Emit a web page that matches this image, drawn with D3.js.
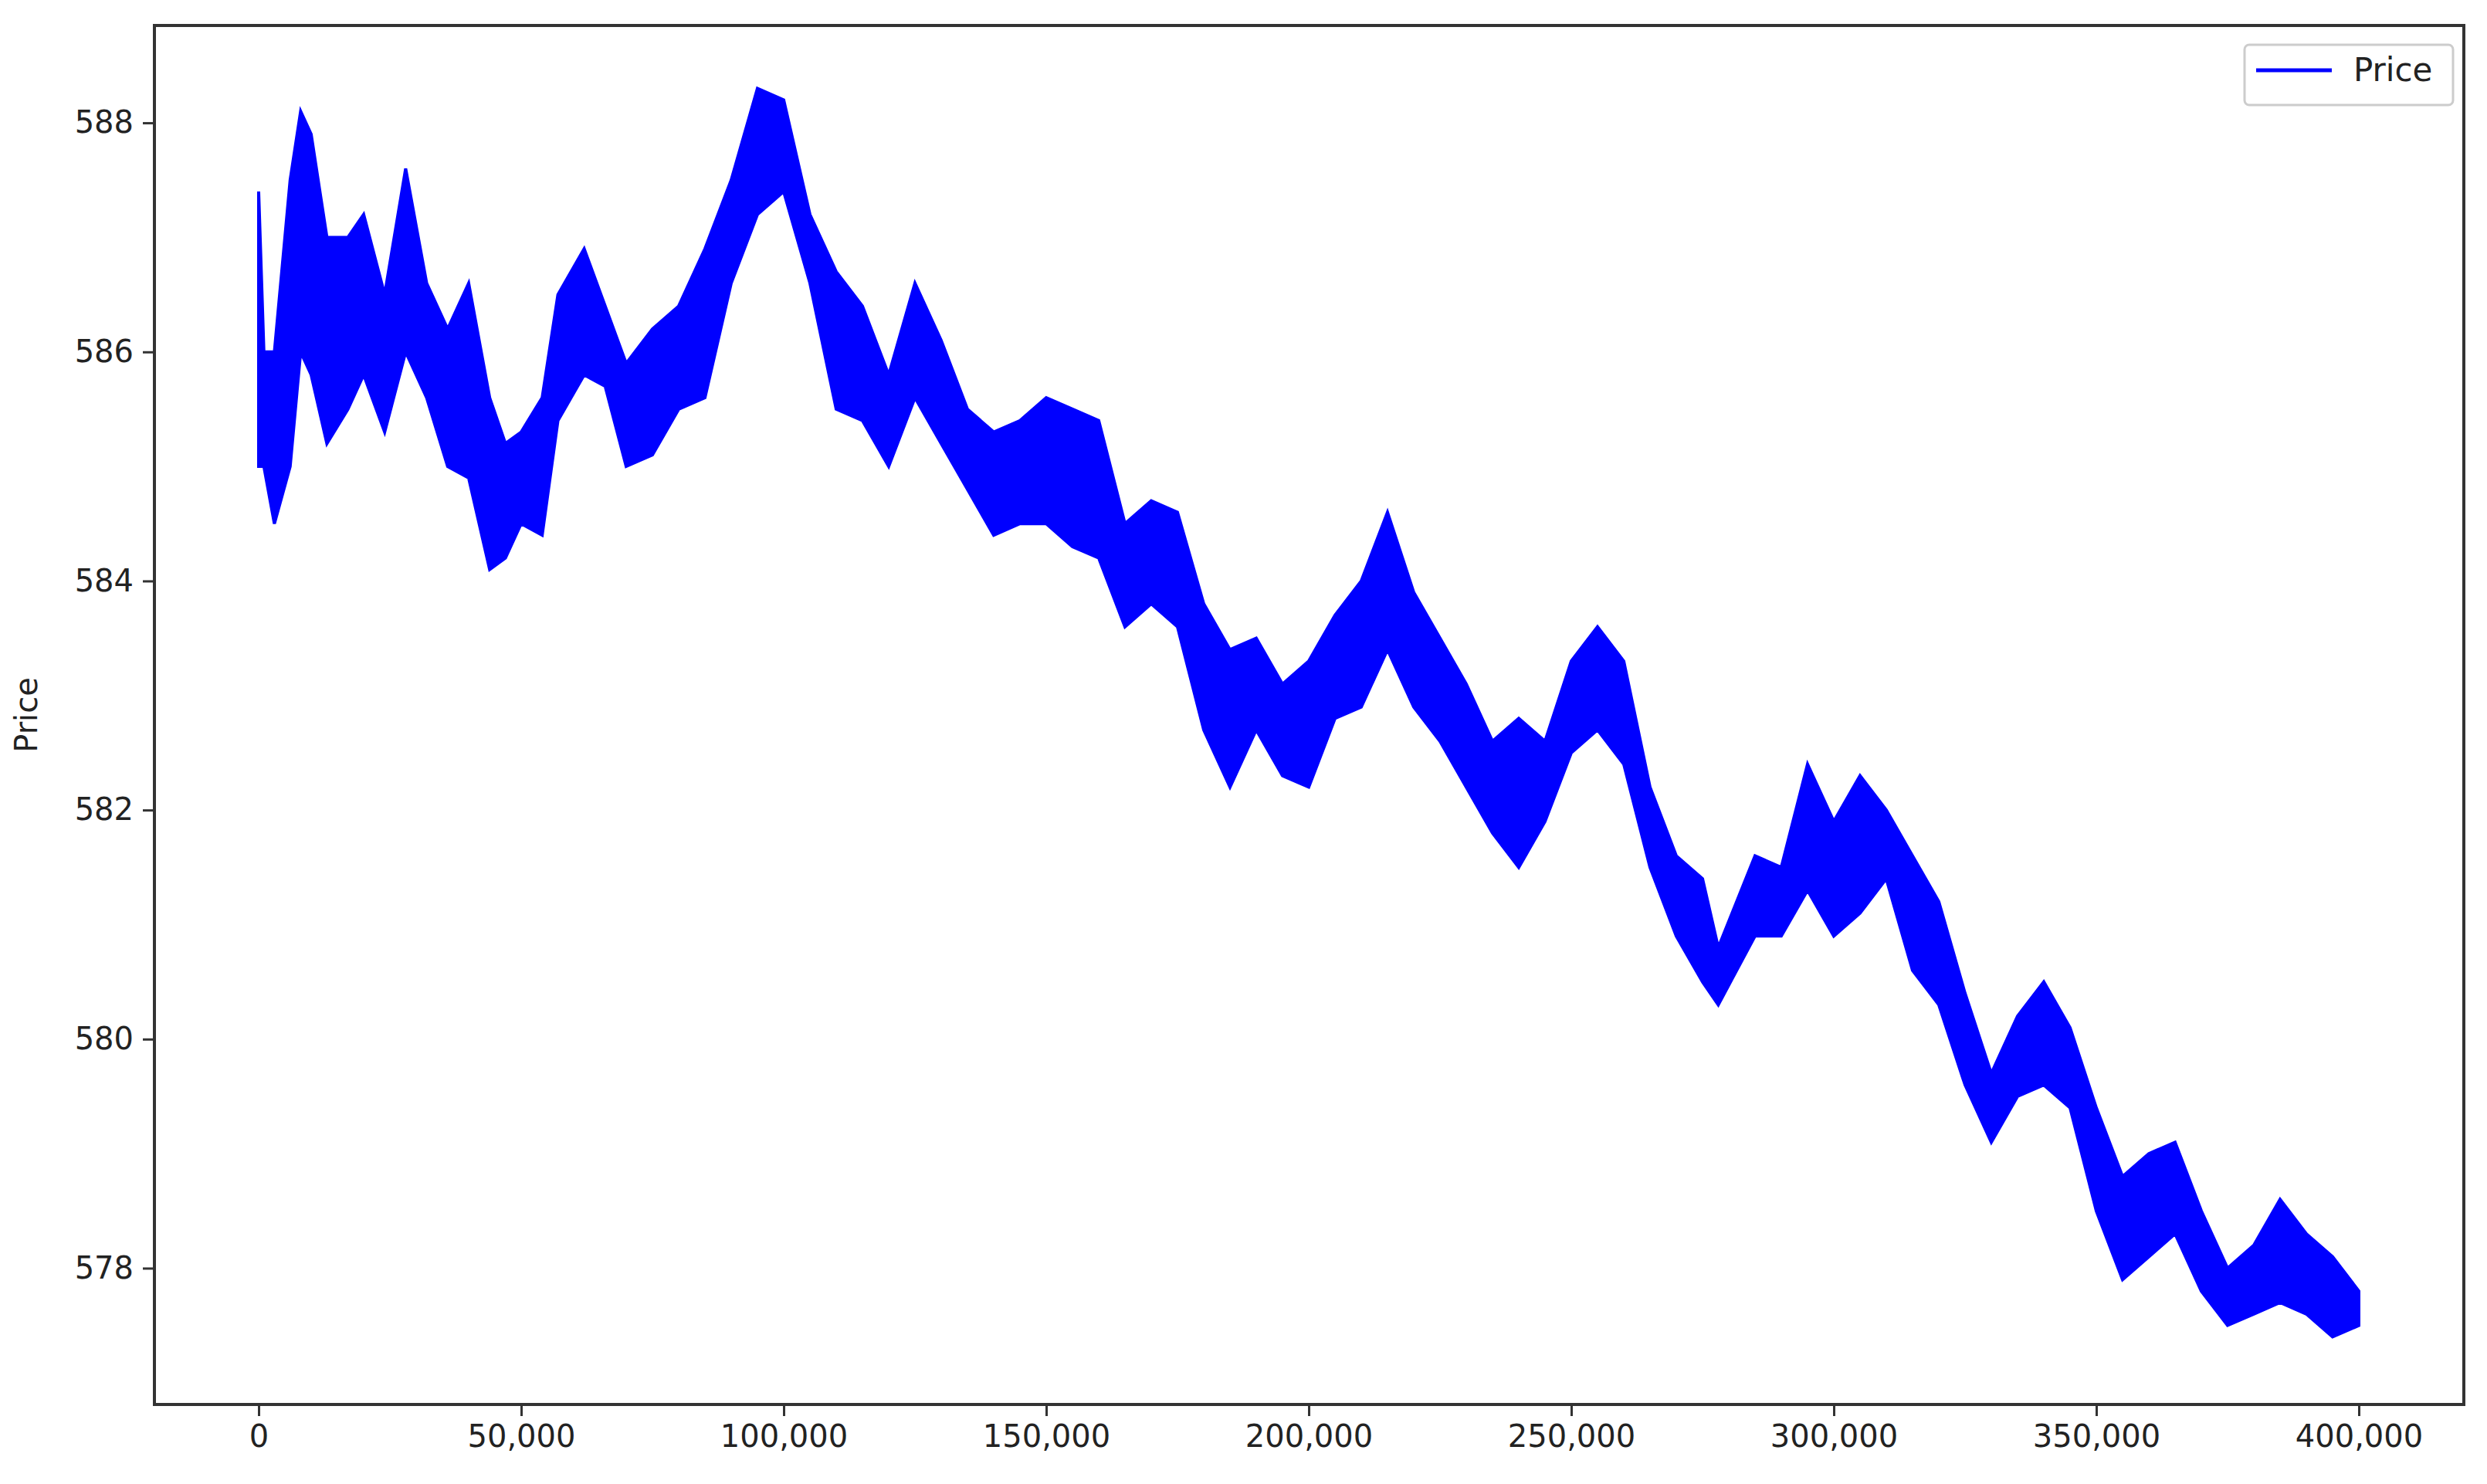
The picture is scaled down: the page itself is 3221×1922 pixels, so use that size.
<!DOCTYPE html>
<html><head><meta charset="utf-8">
<script src="https://cdn.jsdelivr.net/npm/d3@7"></script>
<style>body{margin:0;background:#fff}svg{display:block}</style>
</head><body>
<svg id="chart" width="3221" height="1922"></svg>
<script>
// price envelope (x index, high, low)
var xs =  [0,1000,3000,6000,8000,10000,13000,17000,20000,24000,28000,32000,36000,40000,44000,47000,50000,54000,57000,62000,66000,70000,75000,80000,85000,90000,95000,100000,105000,110000,115000,120000,125000,130000,135000,140000,145000,150000,155000,160000,165000,170000,175000,180000,185000,190000,195000,200000,205000,210000,215000,220000,225000,230000,235000,240000,245000,250000,255000,260000,265000,270000,275000,278000,285000,290000,295000,300000,305000,310000,315000,320000,325000,330000,335000,340000,345000,350000,355000,360000,365000,370000,375000,380000,385000,390000,395000,400000];
var highs = [587.4,586.0,586.0,587.5,588.1,587.9,587.0,587.0,587.2,586.5,587.6,586.6,586.2,586.6,585.6,585.2,585.3,585.6,586.5,586.9,586.4,585.9,586.2,586.4,586.9,587.5,588.3,588.2,587.2,586.7,586.4,585.8,586.6,586.1,585.5,585.3,585.4,585.6,585.5,585.4,584.5,584.7,584.6,583.8,583.4,583.5,583.1,583.3,583.7,584.0,584.6,583.9,583.5,583.1,582.6,582.8,582.6,583.3,583.6,583.3,582.2,581.6,581.4,580.8,581.6,581.5,582.4,581.9,582.3,582.0,581.6,581.2,580.4,579.7,580.2,580.5,580.1,579.4,578.8,579.0,579.1,578.5,578.0,578.2,578.6,578.3,578.1,577.8];
var lows  = [585.0,585.0,584.5,585.0,586.0,585.8,585.2,585.5,585.8,585.3,586.0,585.6,585.0,584.9,584.1,584.2,584.5,584.4,585.4,585.8,585.7,585.0,585.1,585.5,585.6,586.6,587.2,587.4,586.6,585.5,585.4,585.0,585.6,585.2,584.8,584.4,584.5,584.5,584.3,584.2,583.6,583.8,583.6,582.7,582.2,582.7,582.3,582.2,582.8,582.9,583.4,582.9,582.6,582.2,581.8,581.5,581.9,582.5,582.7,582.4,581.5,580.9,580.5,580.3,580.9,580.9,581.3,580.9,581.1,581.4,580.6,580.3,579.6,579.1,579.5,579.6,579.4,578.5,577.9,578.1,578.3,577.8,577.5,577.6,577.7,577.6,577.4,577.5];
var yTicks = [578,580,582,584,586,588];
var xTicks = [0,50000,100000,150000,200000,250000,300000,350000,400000];

var svg = d3.select('#chart');
var L = 200, R = 3191, T = 33, B = 1819;
var x = d3.scaleLinear().domain([-19850, 420000]).range([L, R]);
var y = d3.scaleLinear().domain([576.81, 588.85]).range([B, T]);
var font = 'DejaVu Sans, sans-serif';
var data = xs.map(function (v, i) { return { x: v, hi: highs[i], lo: lows[i] }; });

var area = d3.area().x(d => x(d.x)).y0(d => y(d.lo)).y1(d => y(d.hi));
svg.append('path').datum(data).attr('d', area).attr('fill', '#0000ff')
	.attr('stroke', '#0000ff').attr('stroke-width', 4).attr('stroke-linejoin', 'miter');

var gx = svg.append('g').attr('transform', 'translate(0,' + B + ')')
	.call(d3.axisBottom(x).tickValues(xTicks).tickFormat(d3.format(',')).tickSize(15).tickPadding(12));
var gy = svg.append('g').attr('transform', 'translate(' + L + ',0)')
	.call(d3.axisLeft(y).tickValues(yTicks).tickFormat(d3.format('d')).tickSize(15).tickPadding(12));
[gx, gy].forEach(function (g) {
	g.select('.domain').remove();
	g.selectAll('line').attr('stroke', '#333').attr('stroke-width', 3);
	g.selectAll('text').attr('font-family', font).attr('font-size', 40).attr('fill', '#222');
});
svg.append('rect').attr('x', L).attr('y', T).attr('width', R - L).attr('height', B - T)
	.attr('fill', 'none').attr('stroke', '#333').attr('stroke-width', 4);

svg.append('text').attr('transform', 'translate(48,' + ((T + B) / 2) + ') rotate(-90)')
	.attr('text-anchor', 'middle').attr('font-family', font).attr('font-size', 40).attr('fill', '#222').text('Price');

// legend
var lg = svg.append('g');
lg.append('rect').attr('x', 2907).attr('y', 58).attr('width', 270).attr('height', 78).attr('rx', 6)
	.attr('fill', '#fff').attr('stroke', '#ccc').attr('stroke-width', 3);
lg.append('line').attr('x1', 2922).attr('x2', 3020).attr('y1', 91).attr('y2', 91)
	.attr('stroke', '#0000ff').attr('stroke-width', 5);
lg.append('text').attr('x', 3048).attr('y', 105).attr('font-family', font).attr('font-size', 42)
	.attr('fill', '#222').text('Price');
</script>
</body></html>
